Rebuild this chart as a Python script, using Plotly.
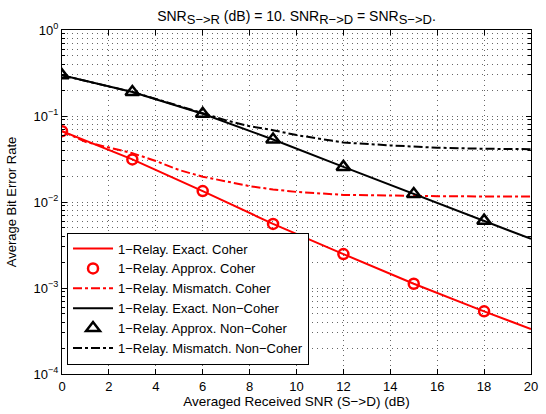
import plotly.graph_objects as go

snr_exact = [0, 3, 6, 9, 12, 15, 18, 20]
snr_approx = [0, 3, 6, 9, 12, 15, 18]
snr_mis = [0, 1, 2, 3, 4, 5, 6, 7, 8, 9, 10, 12, 14, 15, 16, 18, 20]

coh_exact = [0.0666, 0.0313, 0.0134, 0.00556, 0.00248, 0.00112, 0.000535, 0.000334]
coh_approx = [0.0666, 0.0313, 0.0134, 0.00556, 0.00248, 0.00112, 0.000535]
coh_mis = [0.0666, 0.050, 0.043, 0.037, 0.030, 0.0235, 0.0197, 0.0172, 0.0153, 0.0140, 0.0131,
           0.0121, 0.0118, 0.0117, 0.0117, 0.0116, 0.0116]

nc_exact = [0.297, 0.190, 0.106, 0.0533, 0.0256, 0.0124, 0.00607, 0.00372]
nc_approx = [0.297, 0.190, 0.106, 0.0533, 0.0256, 0.0124, 0.00607]
nc_mis = [0.297, 0.257, 0.222, 0.190, 0.158, 0.131, 0.108, 0.089, 0.076, 0.0684, 0.060,
          0.0492, 0.0455, 0.0438, 0.0428, 0.0416, 0.0411]

y_tickvals = [1, 0.1, 0.01, 0.001, 0.0001]
y_ticktext = ["10<sup>0</sup>", "10<sup>−1</sup>", "10<sup>−2</sup>", "10<sup>−3</sup>", "10<sup>−4</sup>"]
x_tickvals = list(range(0, 21, 2))

names = ["1−Relay. Exact. Coher", "1−Relay. Approx. Coher", "1−Relay. Mismatch. Coher",
         "1−Relay. Exact. Non−Coher", "1−Relay. Approx. Non−Coher", "1−Relay. Mismatch. Non−Coher"]

title_text = ("SNR<sub><span style='font-size:13px'>S−>R</span></sub> (dB) = 10. "
              "SNR<sub><span style='font-size:13px'>R−>D</span></sub> = "
              "SNR<sub><span style='font-size:13px'>S−>D</span></sub>.")

RED = "#ff0000"
BLK = "#000000"

fig = go.Figure()
fig.add_trace(go.Scatter(x=snr_exact, y=coh_exact, mode="lines", name=names[0],
                         line=dict(color=RED, width=2)))
fig.add_trace(go.Scatter(x=snr_approx, y=coh_approx, mode="markers", name=names[1],
                         marker=dict(symbol="circle-open", size=10, color=RED, line=dict(width=2.5, color=RED))))
fig.add_trace(go.Scatter(x=snr_mis, y=coh_mis, mode="lines", name=names[2],
                         line=dict(color=RED, width=2, dash="dashdot")))
fig.add_trace(go.Scatter(x=snr_exact, y=nc_exact, mode="lines", name=names[3],
                         line=dict(color=BLK, width=2)))
fig.add_trace(go.Scatter(x=snr_approx, y=nc_approx, mode="markers", name=names[4],
                         marker=dict(symbol="triangle-up-open", size=12, color=BLK, line=dict(width=2.5, color=BLK))))
fig.add_trace(go.Scatter(x=snr_mis, y=nc_mis, mode="lines", name=names[5],
                         line=dict(color=BLK, width=2, dash="dashdot")))

minor_y = [k * 10.0 ** e for e in range(-4, 0) for k in range(2, 10)]
grid_col = "rgba(0,0,0,0.6)"
grid_dash = "1px,4px"

fig.update_layout(
    width=546, height=414,
    margin=dict(l=62, r=15, t=29.5, b=39.5),
    paper_bgcolor="white", plot_bgcolor="white",
    font=dict(family="Liberation Sans, Arial, sans-serif", size=13, color="black"),
    title=dict(text=title_text,
               x=0.5, xref="paper", xanchor="center", y=0.962, yref="container", yanchor="middle",
               font=dict(size=14)),
    showlegend=True,
    legend=dict(x=0.0107, y=0.0275, xanchor="left", yanchor="bottom",
                bgcolor="white", bordercolor="black", borderwidth=1,
                font=dict(size=13), tracegroupgap=0, itemwidth=40),
)
fig.update_xaxes(range=[0, 20], tickvals=x_tickvals, showline=True, linecolor="black", linewidth=1,
                 mirror="allticks", ticks="inside", ticklen=5, tickcolor="black",
                 showgrid=True, gridcolor=grid_col, griddash=grid_dash, gridwidth=1,
                 zeroline=False, tickfont=dict(size=13), automargin=False,
                 title=dict(text="Averaged Received SNR (S−>D) (dB)", font=dict(size=13.5), standoff=2))
fig.update_yaxes(type="log", range=[-4, 0], tickmode="array", tickvals=y_tickvals, ticktext=y_ticktext,
                 showline=True, linecolor="black", linewidth=1, mirror="allticks",
                 ticks="inside", ticklen=5, tickcolor="black",
                 showgrid=True, gridcolor=grid_col, griddash=grid_dash, gridwidth=1,
                 minor=dict(tickmode="array", tickvals=minor_y, ticks="inside", ticklen=3, tickcolor="black",
                            showgrid=True, gridcolor=grid_col, griddash=grid_dash, gridwidth=1),
                 zeroline=False, tickfont=dict(size=13), automargin=False,
                 title=dict(text="Average Bit Error Rate", font=dict(size=13), standoff=14))

fig.write_html("out.html", post_script="document.body.style.margin='0';",
               config={"displayModeBar": False})
